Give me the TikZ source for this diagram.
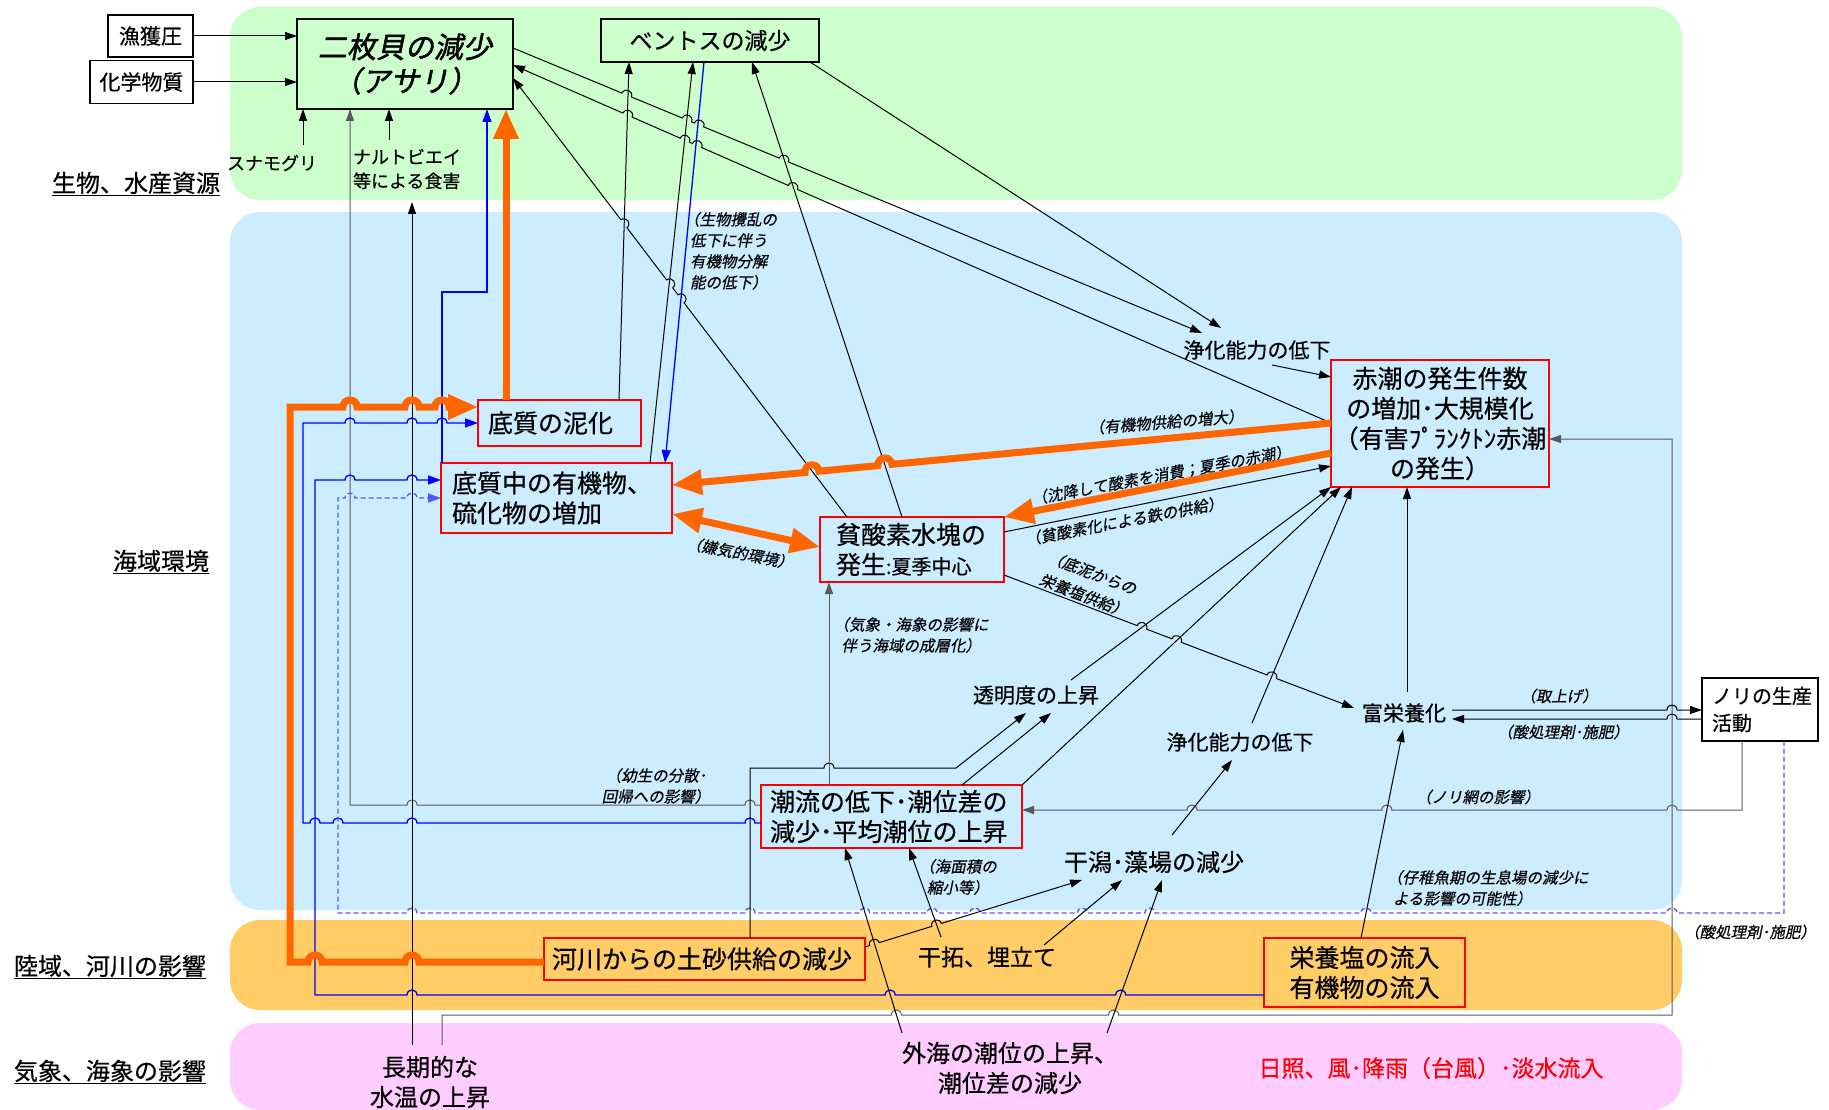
\documentclass[tikz,border=0pt]{standalone}
\usepackage{fontspec}
\setmainfont[FakeBold=0.5]{Noto Sans CJK JP}
\newfontfamily\itfont[FakeSlant=0.2,FakeBold=0.4]{Noto Sans CJK JP}
\newfontfamily\bifont[FakeSlant=0.2,FakeBold=1.6]{Noto Sans CJK JP}
\usetikzlibrary{arrows.meta,calc}
\definecolor{bgreen}{HTML}{CCFFCC}
\definecolor{bblue}{HTML}{CCECFF}
\definecolor{borange}{HTML}{FFCC66}
\definecolor{bpink}{HTML}{FFCCFF}
\definecolor{aorange}{HTML}{FF6600}
\definecolor{lblue}{HTML}{0000FF}
\definecolor{dblue}{HTML}{5555FF}
\definecolor{lgray}{HTML}{5A5A5A}
\newcommand\fsMain{\fontsize{25}{30}\selectfont}
\newcommand\fsIt{\itfont\fontsize{15.5}{21}\selectfont}
\newcommand\fsItW{\itfont\fontsize{15.5}{24}\selectfont}
\newcommand\hopl[4]{\foreach \t in {#4}{ -- ($(#2)!\t!(#3)!#1!(#2)$) .. controls ($(#2)!\t!(#3)!#1!(#2)!1.333*#1!90:(#3)$) and ($(#2)!\t!(#3)!#1!(#3)!1.333*#1!-90:(#2)$) .. ($(#2)!\t!(#3)!#1!(#3)$)} -- (#3)}
\newcommand\hopr[4]{\foreach \t in {#4}{ -- ($(#2)!\t!(#3)!#1!(#2)$) .. controls ($(#2)!\t!(#3)!#1!(#2)!1.333*#1!-90:(#3)$) and ($(#2)!\t!(#3)!#1!(#3)!1.333*#1!90:(#2)$) .. ($(#2)!\t!(#3)!#1!(#3)$)} -- (#3)}
\begin{document}
\begin{tikzpicture}[x=1pt,y=-1pt,
  every node/.style={inner sep=0pt,outer sep=0pt},
  arr/.style={line width=1pt,draw=black,-{Triangle[length=12pt,width=8pt]}},
  garr/.style={arr,draw=lgray},
  barr/.style={line width=1.3pt,draw=lblue,-{Triangle[length=13pt,width=9pt]}},
  darr/.style={barr,draw=dblue,dash pattern=on 5pt off 3pt},
  oarr/.style={line width=7pt,draw=aorange,-{Triangle[length=30pt,width=24pt]}},
  oarrb/.style={line width=7pt,draw=aorange,{Triangle[length=30pt,width=24pt]}-{Triangle[length=30pt,width=24pt]}},
  band/.style={rounded corners=30pt},
  rbox/.style={draw=red,line width=2.5pt,fill=bblue,font=\fsMain},
  kbox/.style={draw=black,line width=1.5pt},
  ital/.style={font=\fsIt},
  sect/.style={font=\fontsize{24}{28}\selectfont,anchor=base},
  lab/.style={font=\fontsize{21}{26}\selectfont},
  big/.style={font=\fontsize{24}{30}\selectfont},
]
\fill[white] (0,0) rectangle (1829,1110);
\useasboundingbox (0,0) rectangle (1829,1110);
\fill[bgreen,band] (230,7) rectangle (1682,200);
\fill[bblue,band] (230,212) rectangle (1682,910);
\fill[borange,band] (230,920) rectangle (1682,1010);
\fill[bpink,band] (230,1023) rectangle (1682,1110);

% section labels
\node[sect] (s1) at (136,192) {\underline{生物、水産資源}};
\node[sect] (s2) at (161,570) {\underline{海域環境}};
\node[sect] (s3) at (110,975) {\underline{陸域、河川の影響}};
\node[sect] (s4) at (110,1080) {\underline{気象、海象の影響}};

% boxes
\node[kbox,fill=white,font=\fontsize{21}{24}\selectfont,minimum width=85pt,minimum height=42pt] (gyo) at (150.5,36) {漁獲圧};
\node[kbox,fill=white,font=\fontsize{21}{24}\selectfont,minimum width=103pt,minimum height=43pt] (kagaku) at (141.5,82) {化学物質};
\node[kbox,fill=bgreen,font=\bifont\fontsize{29}{34}\selectfont,align=center,minimum width=216pt,minimum height=90pt] (nimai) at (405,64) {二枚貝の減少\\\kern-0.3em（アサリ）\kern-0.3em};
\node[kbox,fill=bgreen,font=\fontsize{23}{28}\selectfont,minimum width=218pt,minimum height=43pt] (benthos) at (710,40.5) {ベントスの減少};
\node[rbox,minimum height=46pt,text width=143pt,align=left,inner xsep=10pt] (deishitsu) at (559.5,423) {底質の泥化};
\node[rbox,minimum height=70pt,text width=209pt,align=left,inner xsep=11pt] (yuuki) at (556.5,498) {底質中の有機物、\\硫化物の増加};
\node[rbox,minimum height=65pt,text width=152pt,align=left,inner xsep=16pt] (hin) at (912,549.5) {貧酸素水塊の\\発生{\fontsize{20}{24}\selectfont :夏季中心}};
\node[rbox,minimum height=127pt,text width=214pt,align=center,inner xsep=2pt] (akashio) at (1440,423.5) {赤潮の発生件数\\の増加･大規模化\\（有害ﾌﾟﾗﾝｸﾄﾝ赤潮\\の発生）};
\node[rbox,minimum height=63pt,text width=243pt,align=left,inner xsep=9pt] (chouryuu) at (891.5,816.5) {潮流の低下･潮位差の\\減少･平均潮位の上昇};
\node[rbox,fill=borange,minimum height=42pt,text width=305pt,align=left,inner xsep=8pt] (kasen) at (704.5,959) {河川からの土砂供給の減少};
\node[rbox,fill=borange,minimum height=69pt,text width=191pt,align=center,inner xsep=5pt] (eiyou) at (1364.5,972.5) {栄養塩の流入\\有機物の流入};
\node[kbox,fill=white,font=\fontsize{20}{27}\selectfont,minimum height=63pt,text width=96pt,align=left,inner xsep=10pt] (nori) at (1760,709.5) {ノリの生産\\活動};

% plain text nodes
\node[font=\fontsize{18}{24}\selectfont] (sunamo) at (272,163) {スナモグリ};
\node[font=\fontsize{18}{24}\selectfont,align=left,anchor=west] (naruto) at (353,169) {ナルトビエイ\\等による食害};
\node[lab] (joka1) at (1257,350) {浄化能力の低下};
\node[lab] (tomei) at (1036,695) {透明度の上昇};
\node[lab] (joka2) at (1240,742) {浄化能力の低下};
\node[lab] (fueiyou) at (1404,713) {富栄養化};
\node[big] (higata) at (1154,862) {干潟･藻場の減少};
\node[font=\fontsize{23}{30}\selectfont] (kantaku) at (987,957) {干拓、埋立て};
\node[big,align=center] (suion) at (430,1082) {長期的な\\水温の上昇};
\node[big,align=center] (gaikai) at (1010,1068) {外海の潮位の上昇、\\潮位差の減少};
\node[font=\fontsize{23}{28}\selectfont,text=red] (nissho) at (1431,1068) {日照、風･降雨（台風）･淡水流入};

% italic notes
\node[ital,align=left,anchor=north west] (l1) at (684,212) {（生物攪乱の\\\hspace*{6pt}低下に伴う\\\hspace*{6pt}有機物分解\\\hspace*{6pt}能の低下）};
\node[ital,rotate=4.5] (l2) at (1166,422) {（有機物供給の増大）};
\node[ital,rotate=10.5] (l3) at (1161,475) {（沈降して酸素を消費；夏季の赤潮）};
\node[ital,rotate=10.7] (l4) at (1124,521) {（貧酸素化による鉄の供給）};
\node[rotate=-21,align=left,font=\fsItW] (l5) at (1088,584) {（底泥からの\\栄養塩供給）};
\node[ital,rotate=-11] (l6) at (740,553) {（嫌気的環境）};
\node[ital,align=left] (l7) at (911,635) {（気象・海象の影響に\\\hspace*{8pt}伴う海域の成層化）};
\node[ital,align=center] (l8) at (656,786) {（幼生の分散･\\回帰への影響）};
\node[ital,align=center] (l9) at (958,877) {（海面積の\\縮小等）};
\node[ital] (l10) at (1478,797) {（ノリ網の影響）};
\node[ital,align=left,anchor=west] (l11) at (1387,888) {（仔稚魚期の生息場の減少に\\\hspace*{6pt}よる影響の可能性）};
\node[ital] (l12) at (1750,932) {（酸処理剤･施肥）};
\node[ital] (l13) at (1559,696) {（取上げ）};
\node[ital] (l14) at (1563,732) {（酸処理剤･施肥）};

% ---------- connectors ----------
\draw[arr] (gyo.east) -- (gyo.east -| nimai.west);
\draw[arr] (kagaku.east) -- (kagaku.east -| nimai.west);
\draw[arr] ($(sunamo.center)+(31,-18)$) -- ($(nimai.south west)+(6,0)$);
\draw[arr] ($(naruto.west)+(36,-29)$) -- ($(nimai.south west)+(92,0)$);

% C5
\coordinate (c5s) at ($(chouryuu.north west)+(0,20)$);
\coordinate (c5e) at ($(nimai.south west)+(53,0)$);
\coordinate (c5b) at (c5e |- c5s);
\draw[garr] (c5s) \hopr{5pt}{c5s}{c5b}{0.0268,0.849} -- (c5e);

% C6
\coordinate (c6s) at ($(chouryuu.north west)+(0,38)$);
\coordinate (c6b1) at (303,823);
\coordinate (c6e) at (deishitsu.west);
\coordinate (c6b2) at (c6b1 |- c6e);
\draw[barr] (c6s) \hopr{5pt}{c6s}{c6b1}{0.024,0.762,0.9236,0.9738} -- (c6b2) \hopl{5pt}{c6b2}{c6e}{0.2686,0.6229,0.7943};

% C7
\coordinate (c7s) at ($(eiyou.north west)+(0,57)$);
\coordinate (c7b1) at (315,995);
\coordinate (c7e) at ($(yuuki.north west)+(0,17)$);
\coordinate (c7b2) at (c7b1 |- c7e);
\draw[barr] (c7s) \hopr{5pt}{c7s}{c7b1}{0.151,0.394,0.8978} -- (c7b2) \hopl{5pt}{c7b2}{c7e}{0.2778,0.7698};

% C8
\coordinate (c8s) at ($(yuuki.north west)+(1,0)$);
\coordinate (c8e) at ($(nimai.south west)+(190,0)$);
\draw[barr] (c8s) -- ++(0,-171) -| (c8e);

% C9 dashed
\coordinate (c9s) at ($(nori.south west)+(82,0)$);
\coordinate (c9b1) at (1784,913);
\coordinate (c9b2) at (338,913);
\coordinate (c9b3) at (338,498);
\coordinate (c9e) at (yuuki.west);
\draw[darr] (c9s) -- (c9b1) \hopr{5pt}{c9b1}{c9b2}{0.0775,0.2891,0.4385,0.4852,0.5595,0.5891,0.6358,0.7151,0.9488} -- (c9b3) \hopl{5pt}{c9b3}{c9e}{0.1165,0.7184};

% C10
\draw[arr] ($(suion.center)+(-18,-37)$) -- ($(naruto.west)+(59,33)$);
% C11
\coordinate (c11s) at ($(suion.center)+(12,-37)$);
\coordinate (c11b1) at (442,1015);
\coordinate (c11b2) at (1672,1015);
\coordinate (c11e) at ($(akashio.north east)+(0,79)$);
\draw[garr] (c11s) -- (c11b1) \hopl{5pt}{c11b1}{c11b2}{0.3694,0.546} -- (c11b2 |- c11e) -- (c11e);
% C12
\coordinate (c12s) at ($(kasen.north west)+(206,0)$);
\coordinate (c12b1) at (750,768);
\coordinate (c12b2) at (956,768);
\coordinate (c12e) at ($(tomei.center)+(-10,18)$);
\draw[arr] (c12s) -- (c12b1) \hopl{5pt}{c12b1}{c12b2}{0.3835} -- (c12e);
% C13 - C18
\draw[garr] ($(chouryuu.north west)+(68,0)$) -- ($(hin.south west)+(9,0)$);
\draw[arr] ($(chouryuu.north west)+(201,0)$) -- ($(tomei.center)+(15,18)$);
\draw[arr] (chouryuu.north east) -- ($(akashio.south west)+(10,0)$);
\draw[arr] ($(joka2.center)+(12,-19)$) -- ($(akashio.south west)+(21,0)$);
\draw[arr] ($(tomei.center)+(35,-15)$) -- (akashio.south west);
\draw[arr] ($(fueiyou.center)+(3,-21)$) -- ($(akashio.south west)+(76,0)$);
% C19, C20
\coordinate (c19s) at ($(fueiyou.center)+(48,-3)$);
\coordinate (c19e) at ($(nori.north west)+(0,32)$);
\draw[arr] (c19s) \hopl{5pt}{c19s}{c19e}{0.88};
\coordinate (c20s) at ($(nori.north west)+(0,41)$);
\coordinate (c20e) at ($(fueiyou.center)+(48,6)$);
\draw[arr] (c20s) \hopr{5pt}{c20s}{c20e}{0.12};
% C21
\coordinate (c21s) at ($(nori.south west)+(40,0)$);
\coordinate (c21e) at ($(chouryuu.north east)+(0,25)$);
\coordinate (c21b) at (c21s |- c21e);
\draw[garr] (c21s) -- (c21b) \hopr{5pt}{c21b}{c21e}{0.0972,0.4933,0.7639};
% C22 - C24
\draw[arr] ($(higata.center)+(18,-27)$) -- ($(joka2.center)+(-8,18)$);
\draw[arr] ($(kantaku.center)+(57,-12)$) -- ($(higata.center)+(-32,18)$);
\draw[arr] ($(kantaku.center)+(-46,-20)$) -- ($(chouryuu.south west)+(148,0)$);
% C25
\coordinate (c25s) at ($(kasen.north east)+(0,9)$);
\coordinate (c25e) at ($(higata.center)+(-72,18)$);
\draw[arr] (c25s) \hopl{5pt}{c25s}{c25e}{0.043,0.33};
% C26 - C28
\draw[arr] ($(gaikai.center)+(-108,-35)$) -- ($(chouryuu.south west)+(84,0)$);
\draw[arr] ($(gaikai.center)+(97,-35)$) -- ($(higata.center)+(8,18)$);
\draw[arr] ($(eiyou.north west)+(97,0)$) -- ($(fueiyou.center)+(-1,17)$);
% C29
\coordinate (c29s) at ($(hin.north east)+(0,58)$);
\coordinate (c29e) at ($(fueiyou.center)+(-50,-5)$);
\draw[arr] (c29s) \hopl{5pt}{c29s}{c29e}{0.394,0.493,0.765};
% C30
\draw[arr] ($(hin.north east)+(0,15)$) -- ($(akashio.north west)+(0,106)$);
% C36 - C39
\draw[arr] ($(deishitsu.north west)+(141,0)$) -- ($(benthos.south west)+(28,0)$);
\draw[arr] ($(yuuki.north west)+(209,0)$) -- ($(benthos.south west)+(92,0)$);
\draw[barr] ($(benthos.south west)+(103,0)$) -- ($(yuuki.north west)+(224,0)$);
\draw[arr] ($(hin.north west)+(82,0)$) -- ($(benthos.south west)+(151,0)$);
% C40
\coordinate (c40s) at ($(hin.north west)+(27,0)$);
\coordinate (c40e) at ($(nimai.north east)+(0,59)$);
\draw[arr] (c40s) \hopr{5pt}{c40s}{c40e}{0.497,0.531,0.668};
% C41
\coordinate (c41s) at ($(nimai.north east)+(0,29)$);
\coordinate (c41e) at ($(joka1.center)+(-55,-17)$);
\draw[arr] (c41s) \hopl{5pt}{c41s}{c41e}{0.165,0.2525,0.270,0.393};
% C42
\coordinate (c42s) at ($(akashio.north west)+(0,63)$);
\coordinate (c42e) at ($(nimai.north east)+(0,46)$);
\draw[arr] (c42s) \hopr{5pt}{c42s}{c42e}{0.658,0.775,0.790,0.860};
% C43, C44
\draw[arr] ($(benthos.south east)+(-9,0)$) -- ($(joka1.center)+(-36,-22)$);
\draw[arr] ($(joka1.center)+(15,15)$) -- ($(akashio.north west)+(0,17)$);

% orange
\coordinate (c31s) at ($(akashio.north west)+(0,63)$);
\coordinate (c31e) at ($(yuuki.north east)+(0,22)$);
\draw[oarr] (c31s) \hopr{7pt}{c31s}{c31e}{0.677,0.7875};
\draw[oarr] ($(akashio.north west)+(0,93)$) -- (hin.north east);
\draw[oarrb] ($(yuuki.north east)+(0,51)$) -- ($(hin.north west)+(0,30)$);
\coordinate (c34s) at ($(kasen.north west)+(0,24)$);
\coordinate (c34b1) at (290,962);
\coordinate (c34e) at ($(deishitsu.north west)+(0,7)$);
\coordinate (c34b2) at (c34b1 |- c34e);
\draw[oarr] (c34s) \hopr{7pt}{c34s}{c34b1}{0.5197,0.9016} -- (c34b2) \hopl{7pt}{c34b2}{c34e}{0.3191,0.6489,0.8085};
\draw[oarr] ($(deishitsu.north west)+(28,0)$) -- ($(nimai.south west)+(209,0)$);
\end{tikzpicture}
\end{document}
